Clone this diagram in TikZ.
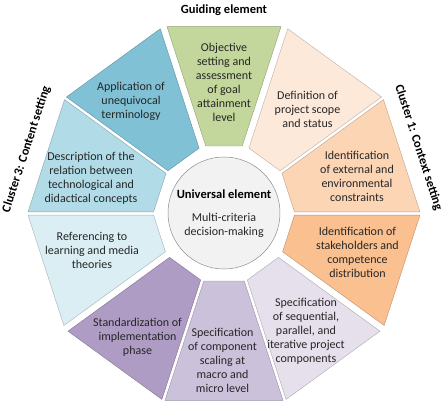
\documentclass[tikz,border=0pt]{standalone}
\usepackage{fontspec}
\setmainfont{Carlito}
\usetikzlibrary{calc}
\definecolor{cgreen}{RGB}{195,214,155}
\definecolor{capp}{RGB}{128,193,214}
\definecolor{cdesc}{RGB}{176,219,231}
\definecolor{cref}{RGB}{218,238,243}
\definecolor{cdef}{RGB}{253,233,217}
\definecolor{cext}{RGB}{252,213,181}
\definecolor{cstake}{RGB}{250,192,144}
\definecolor{cseq}{RGB}{230,224,236}
\definecolor{ccomp}{RGB}{204,193,218}
\definecolor{cstand}{RGB}{174,156,197}
\definecolor{ccirc}{RGB}{242,242,242}
\newcommand\sector[5]{%
  \path[sectorstyle, fill=#5, draw=#5!75!black]
    ($(#1:\Rout)!#3!(#2:\Rout)$) -- ($(#2:\Rout)!#4!(#1:\Rout)$) --
    ($(#2:\Rin)!#4!(#1:\Rin)$) -- ($(#1:\Rin)!#3!(#2:\Rin)$) -- cycle;}
\begin{document}
\begin{tikzpicture}[x=1pt,y=1pt,
  sectorstyle/.style={line width=0.4pt},
  lbl/.style={align=center, font=\fontsize{12}{14}\selectfont, text=black!85, inner sep=0pt},
  head/.style={font=\bfseries\fontsize{12.5}{14}\selectfont, text=black, inner sep=0pt},
  side/.style={font=\bfseries\fontsize{12.5}{14}\selectfont, text=black, inner sep=0pt}]
\useasboundingbox (0,0) rectangle (445,416);
\def\Rout{196.5}
\def\Rin{71}
\def\N{1.7pt}
\def\W{3.7pt}
\begin{scope}[shift={(224,202.5)}]
  \sector{72}{108}{\W}{\W}{cgreen}
  \sector{36}{72}{\N}{\W}{cdef}
  \sector{0}{36}{\N}{\N}{cext}
  \sector{-36}{0}{\W}{\N}{cstake}
  \sector{-72}{-36}{\N}{\W}{cseq}
  \sector{-108}{-72}{\N}{\N}{ccomp}
  \sector{-144}{-108}{\W}{\N}{cstand}
  \sector{180}{216}{\N}{\W}{cref}
  \sector{144}{180}{\N}{\N}{cdesc}
  \sector{108}{144}{\W}{\N}{capp}
  \node[circle, draw=black!45, line width=0.5pt, fill=ccirc, minimum size=112pt, inner sep=0pt] (u) at (0,0.5) {};
\end{scope}
\node[head] (title) at (224,406) {Guiding element};
\node[side, rotate=-72] (cl1) at (418.5,268.5) {Cluster 1: Context setting};
\node[side, rotate=72] (cl3) at (26.5,266.5) {Cluster 3: Content setting};
\node[head] (ut) at (224,222) {Universal element};
\node[lbl] (us) at (224,191) {Multi-criteria\\decision-making};
\node[lbl] (t1) at (224,334) {Objective\\setting and\\assessment\\of goal\\attainment\\level};
\node[lbl] (t2) at (131,315) {Application of\\unequivocal\\terminology};
\node[lbl] (t3) at (307.5,307) {Definition of\\project scope\\and status};
\node[lbl] (t4) at (91,238) {Description of the\\relation between\\technological and\\didactical concepts};
\node[lbl] (t5) at (357,240) {Identification\\of external and\\environmental\\constraints};
\node[lbl] (t6) at (92,166) {Referencing to\\learning and media\\theories};
\node[lbl] (t7) at (357.5,164) {Identification of\\stakeholders and\\competence\\distribution};
\node[lbl] (t8) at (137.5,79) {Standardization of\\implementation\\phase};
\node[lbl] (t9) at (222.5,56) {Specification\\of component\\scaling at\\macro and\\micro level};
\node[lbl] (t10) at (306,85) {Specification\\of sequential,\\parallel, and\\iterative project\\components};
\end{tikzpicture}
\end{document}
